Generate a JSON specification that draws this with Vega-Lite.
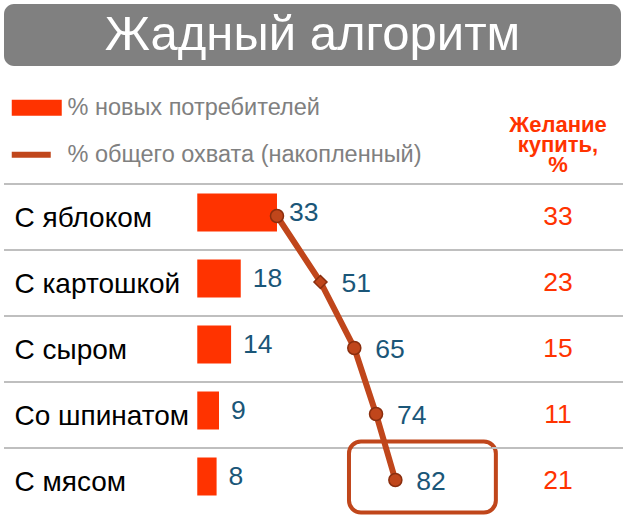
{
  "$schema": "https://vega.github.io/schema/vega-lite/v6.json",
  "padding": {"left": 3, "top": 4, "right": 0, "bottom": 0},
  "background": "white",
  "config": {"view": {"stroke": null}, "font": "Liberation Sans"},
  "datasets": {
    "rows": [
      {"product": "С яблоком", "new": 33, "cum": 33, "want": 33},
      {"product": "С картошкой", "new": 18, "cum": 51, "want": 23},
      {"product": "С сыром", "new": 14, "cum": 65, "want": 15},
      {"product": "Со шпинатом", "new": 9, "cum": 74, "want": 11},
      {"product": "С мясом", "new": 8, "cum": 82, "want": 21}
    ],
    "heading": [{"title": "Жадный алгоритм"}]
  },
  "vconcat": [
    {
      "width": 617,
      "height": 62,
      "view": {"fill": "#808080", "cornerRadius": 10, "stroke": null},
      "data": {"name": "heading"},
      "mark": {"type": "text", "color": "white", "fontSize": 49, "baseline": "middle", "align": "center"},
      "encoding": {"text": {"field": "title"}}
    },
    {
      "hconcat": [
        {
          "width": 488,
          "height": 330,
          "data": {"name": "rows"},
          "encoding": {
            "y": {
              "field": "product", "type": "nominal",
              "scale": {"domain": ["С яблоком", "С картошкой", "С сыром", "Со шпинатом", "С мясом"], "paddingInner": 0, "paddingOuter": 0},
              "axis": {"title": null, "labelAlign": "left", "labelPadding": -10, "labelOffset": 2, "ticks": false, "tickSize": 0, "domain": false, "labelFontSize": 28, "labelColor": "black", "labelBaseline": "middle", "labelLimit": 0}
            }
          },
          "layer": [
            {
              "mark": {"type": "rule", "color": "#BFBFBF", "strokeWidth": 2, "xOffset": 8},
              "encoding": {"y": {"field": "product", "type": "nominal", "bandPosition": 0}}
            },
            {
              "mark": {"type": "bar", "height": 38, "yOffset": -4.5},
              "encoding": {
                "x": {"field": "new", "type": "quantitative", "scale": {"domain": [-80, 122], "nice": false, "zero": false}, "axis": null},
                "color": {
                  "datum": "% новых потребителей",
                  "scale": {"domain": ["% новых потребителей", "% общего охвата (накопленный)"], "range": ["#FF3300", "#C0461B"]},
                  "legend": {
                    "orient": "none", "legendX": 21, "legendY": 92, "title": null, "padding": 0,
                    "labelFontSize": 23.5, "labelColor": "#808080", "labelOffset": 19, "rowPadding": 22, "labelLimit": 0,
                    "symbolSize": 400, "symbolStrokeWidth": 0,
                    "encode": {
                      "symbols": {
                        "update": {
                          "shape": {"signal": "datum.value === '% новых потребителей' ? 'M-2.5,-0.8H2.5V0.8H-2.5Z' : 'M-2.5,0H1.4'"},
                          "fill": {"signal": "datum.value === '% новых потребителей' ? '#FF3300' : 'transparent'"},
                          "stroke": {"value": "#C0461B"},
                          "strokeWidth": {"signal": "datum.value === '% новых потребителей' ? 0 : 6"},
                          "size": {"value": 400},
                          "opacity": {"value": 1}
                        }
                      }
                    }
                  }
                }
              }
            },
            {
              "mark": {"type": "text", "align": "left", "baseline": "middle", "dx": 12, "yOffset": -4.5, "fontSize": 26.5, "color": "#1A5678"},
              "encoding": {
                "x": {"field": "new", "type": "quantitative"},
                "text": {"field": "new", "type": "quantitative"}
              }
            },
            {
              "mark": {"type": "line", "strokeWidth": 6, "yOffset": -1},
              "encoding": {
                "x": {"field": "cum", "type": "quantitative"},
                "color": {"datum": "% общего охвата (накопленный)"}
              }
            },
            {
              "mark": {"type": "point", "filled": true, "fill": "#C0461B", "stroke": "#8A2E0E", "strokeWidth": 1.5, "opacity": 1, "size": 170, "yOffset": -1},
              "encoding": {
                "x": {"field": "cum", "type": "quantitative"},
                "shape": {"condition": {"test": "datum.product === 'С картошкой'", "value": "diamond"}, "value": "circle"}
              }
            },
            {
              "transform": [{"filter": "datum.cum !== datum.new"}],
              "mark": {"type": "text", "align": "left", "baseline": "middle", "dx": 21, "yOffset": 1, "fontSize": 26.5, "color": "#1A5678"},
              "encoding": {
                "x": {"field": "cum", "type": "quantitative"},
                "text": {"field": "cum", "type": "quantitative"}
              }
            },
            {
              "transform": [{"filter": "datum.product === 'С мясом'"}],
              "mark": {"type": "rect", "filled": false, "stroke": "#C0461B", "strokeWidth": 4, "cornerRadius": 12, "height": 71, "yOffset": -4},
              "encoding": {
                "x": {"datum": 62.8},
                "x2": {"datum": 123.6}
              }
            }
          ]
        },
        {
          "width": 132,
          "height": 330,
          "data": {"name": "rows"},
          "title": {"text": ["Желание", "купить,", "%"], "fontSize": 22, "fontWeight": "bold", "color": "#FF3300", "lineHeight": 20, "anchor": "middle", "offset": 6},
          "encoding": {
            "y": {
              "field": "product", "type": "nominal",
              "scale": {"domain": ["С яблоком", "С картошкой", "С сыром", "Со шпинатом", "С мясом"], "paddingInner": 0, "paddingOuter": 0},
              "axis": null
            }
          },
          "layer": [
            {
              "mark": {"type": "rule", "color": "#BFBFBF", "strokeWidth": 2},
              "encoding": {"y": {"field": "product", "type": "nominal", "bandPosition": 0}}
            },
            {
              "mark": {"type": "text", "fontSize": 26.5, "color": "#FF3300", "baseline": "middle"},
              "encoding": {"text": {"field": "want", "type": "quantitative"}}
            }
          ]
        }
      ],
      "spacing": 0,
      "bounds": "flush"
    }
  ],
  "spacing": 118,
  "bounds": "flush"
}
